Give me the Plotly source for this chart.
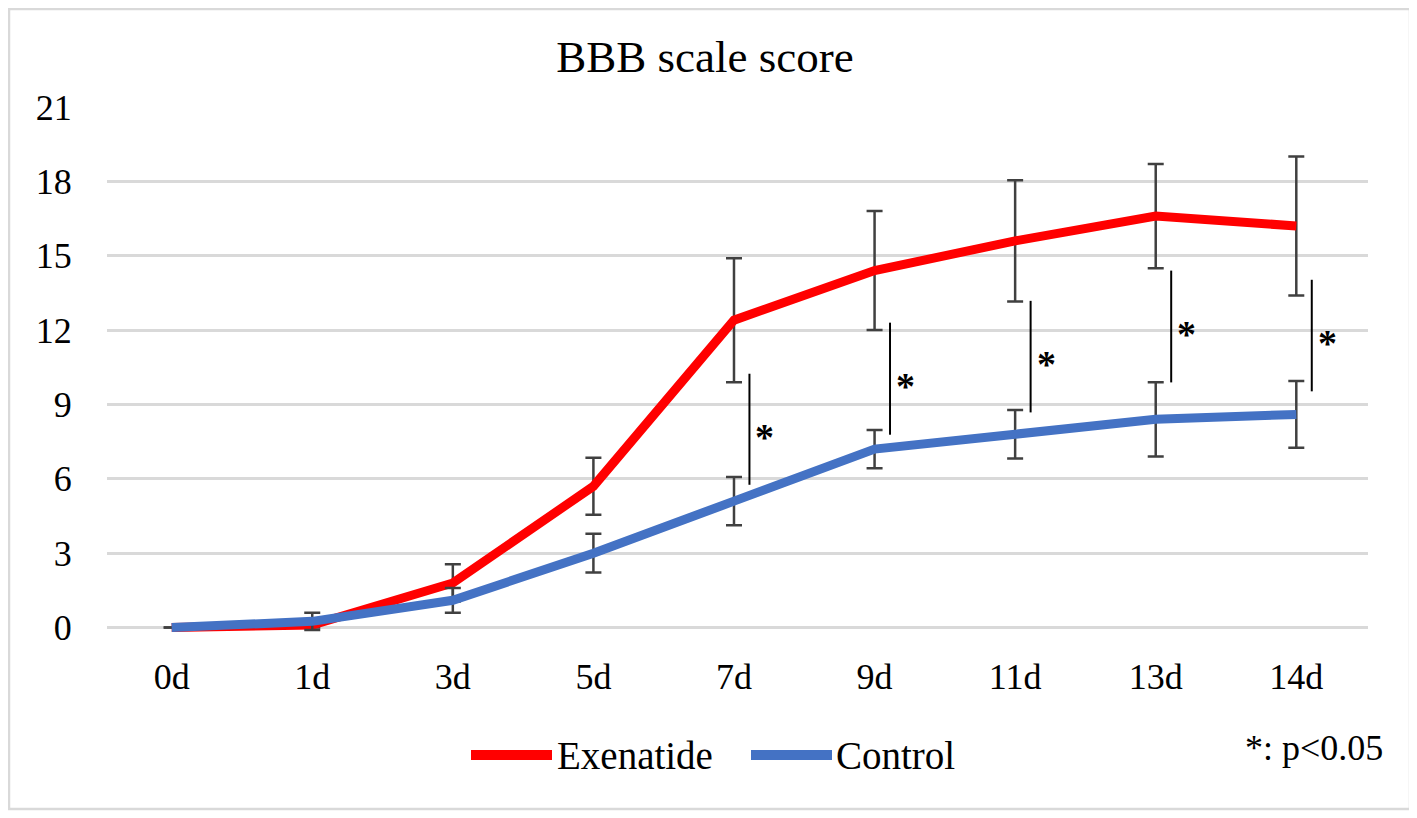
import plotly.graph_objects as go

# ---- data ----
days = ["0d", "1d", "3d", "5d", "7d", "9d", "11d", "13d", "14d"]
exenatide = [0, 0.1, 1.8, 5.7, 12.4, 14.4, 15.6, 16.6, 16.2]
exenatide_sd = [0, 0.1, 0.75, 1.15, 2.5, 2.4, 2.45, 2.1, 2.8]
control = [0, 0.25, 1.1, 3.0, 5.1, 7.2, 7.8, 8.4, 8.6]
control_sd = [0, 0.35, 0.5, 0.78, 0.97, 0.77, 0.98, 1.5, 1.35]
y_ticks = [0, 3, 6, 9, 12, 15, 18, 21]

# significance brackets (day, lower, upper)
sig_days = ["7d", "9d", "11d", "13d", "14d"]
sig_low = [5.76, 7.78, 8.68, 9.89, 9.53]
sig_high = [10.24, 12.3, 13.18, 14.4, 14.03]

FONT = "Liberation Serif"
RED = "#FF0000"
BLUE = "#4472C4"
ERR = "#404040"

OFF = 8  # page body margin
W, H = 1417 - OFF, 818 - OFF
# plot area in page pixels
PL, PR, PT, PB = 107, 1368, 107, 635
L = PL - OFF
T = PT - OFF
R = W - (PR - OFF)
B = H - (PB - OFF)
pw, ph = PR - PL, PB - PT


def px_x(px):
    return (px - PL) / pw


def px_y(py):
    return (PB - py) / ph


fig = go.Figure()
fig.add_trace(go.Scatter(
    x=days, y=exenatide, mode="lines", name="Exenatide",
    line=dict(color=RED, width=9),
    error_y=dict(type="data", array=exenatide_sd, visible=True,
                 color=ERR, thickness=2.5, width=8),
    showlegend=False,
))
fig.add_trace(go.Scatter(
    x=days, y=control, mode="lines", name="Control",
    line=dict(color=BLUE, width=9),
    error_y=dict(type="data", array=control_sd, visible=True,
                 color=ERR, thickness=2.5, width=8),
    showlegend=False,
))

shapes = []
annotations = []
for d, lo, hi in zip(sig_days, sig_low, sig_high):
    i = days.index(d)
    shapes.append(dict(type="line", xref="x", yref="y",
                       x0=i + 0.11, x1=i + 0.11, y0=lo, y1=hi,
                       line=dict(color="black", width=2)))
    annotations.append(dict(xref="x", yref="y", x=i + 0.22,
                            y=(lo + hi) / 2 - 0.3, text="<b>*</b>", showarrow=False,
                            font=dict(family=FONT, size=38, color="black"),
                            xanchor="center", yanchor="middle"))

# manual legend
legend_items = [("Exenatide", RED, 471, 552, 555), ("Control", BLUE, 751, 832, 834)]
for name, col, x0, x1, tx in legend_items:
    shapes.append(dict(type="line", xref="paper", yref="paper",
                       x0=px_x(x0), x1=px_x(x1), y0=px_y(755), y1=px_y(755),
                       line=dict(color=col, width=10)))
    annotations.append(dict(xref="paper", yref="paper", x=px_x(tx), y=px_y(755),
                            text=name, showarrow=False, xanchor="left", yanchor="middle",
                            font=dict(family=FONT, size=39, color="black")))

annotations.append(dict(xref="paper", yref="paper", x=px_x(1243), y=px_y(748),
                        text="*: p<0.05", showarrow=False, xanchor="left",
                        yanchor="middle",
                        font=dict(family=FONT, size=36, color="black")))

# outer frame
shapes.append(dict(type="rect", xref="paper", yref="paper",
                   x0=px_x(9), x1=px_x(1410), y0=px_y(809), y1=px_y(9),
                   line=dict(color="#D9D9D9", width=2.5), layer="below"))

fig.update_layout(
    width=W, height=H,
    margin=dict(l=L, r=R, t=T, b=B),
    paper_bgcolor="white", plot_bgcolor="white",
    title=dict(text="BBB scale score", xref="container", yref="container",
               x=(705 - OFF) / W, y=1 - (56 - OFF) / H, xanchor="center",
               yanchor="middle",
               font=dict(family=FONT, size=45, color="black")),
    shapes=shapes, annotations=annotations,
    showlegend=False,
    xaxis=dict(type="category", range=[-0.46, 8.51], showgrid=False,
               zeroline=False, showline=False,
               ticks="outside", ticklen=10, tickcolor="rgba(0,0,0,0)",
               tickfont=dict(family=FONT, size=36, color="black")),
    yaxis=dict(range=[-0.3, 21], tickvals=y_ticks, showgrid=True,
               gridcolor="#D9D9D9", gridwidth=2.5, zeroline=False, showline=False,
               ticks="outside", ticklen=27, tickcolor="rgba(0,0,0,0)",
               tickfont=dict(family=FONT, size=36, color="black")),
)

fig.write_html("out.html")
